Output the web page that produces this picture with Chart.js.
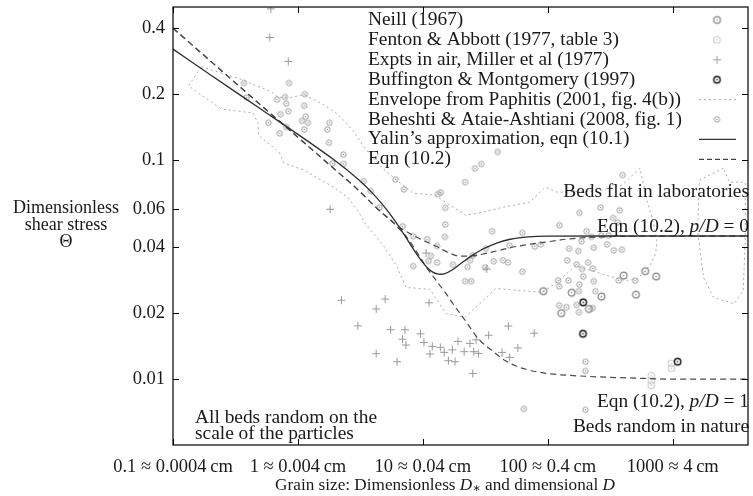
<!DOCTYPE html>
<html><head><meta charset="utf-8">
<script src="https://cdn.jsdelivr.net/npm/chart.js@4"></script>
<style>html,body{margin:0;padding:0;background:#fff}</style>
</head><body>
<canvas id="c" width="753" height="496"></canvas>
<script>
// ---------- data ----------
const xTickValues = [0.1, 1, 10, 100, 1000];
const xTickLabels = ['0.1 \u2248 0.0004\u2009cm', '1 \u2248 0.004\u2009cm', '10 \u2248 0.04\u2009cm', '100 \u2248 0.4\u2009cm', '1000 \u2248 4\u2009cm'];
const yTickValues = [0.01, 0.02, 0.04, 0.06, 0.1, 0.2, 0.4];
const yTickLabels = ['0.01', '0.02', '0.04', '0.06', '0.1', '0.2', '0.4'];

const neill = [[404,0.0297],[601,0.0311],[735,0.0294],[155,0.0248],[268,0.0238],[507,0.0243],[213,0.0209],[128,0.0200],[91.9,0.0252]];
const fenton = [[673,0.01035],[673,0.00982],[673,0.00937],[975,0.01179],[975,0.0112]];
const miller = [[0.595,0.363],[0.607,0.49],[0.837,0.282],[1.81,0.0596],[2.23,0.0229],[3.02,0.0175],[4.99,0.0232],[4.23,0.0209],[11.2,0.0223],[5.52,0.0168],[7.19,0.0168],[9.57,0.0161],[6.87,0.0152],[7.32,0.0143],[10.2,0.0147],[11.9,0.0141],[13.8,0.01396],[14.8,0.01324],[17.2,0.0136],[19.1,0.01486],[23.8,0.01455],[26.7,0.0151],[33.6,0.01585],[48.3,0.01746],[77.8,0.0162],[4.23,0.01306],[6.21,0.0120],[11.4,0.01302],[16.0,0.01213],[18.1,0.0120],[21.4,0.01334],[25.5,0.01334],[27.9,0.0131],[25.1,0.0106],[43.0,0.01324],[49.5,0.01256],[57.6,0.01387],[10.6,0.0376],[32.5,0.0318]];
const buffington = [[192,0.0224],[191,0.0161],[1094,0.0120]];
const envelope = [[0.169,0.267],[0.340,0.235],[0.610,0.205],[0.693,0.194],[0.833,0.192],[1.116,0.199],[1.61,0.179],[2.08,0.162],[2.74,0.137],[3.48,0.112],[4.66,0.0929],[6.13,0.0810],[8.37,0.0706],[12.5,0.0691],[16.5,0.0622],[22.1,0.0560],[30.2,0.0578],[43.5,0.0609],[71.4,0.0642],[95.7,0.0752],[119,0.0713],[248,0.0721],[392,0.0768],[545,0.0919],[620,0.0656],[692,0.0531],[745,0.0430],[731,0.0375],[655,0.0330],[516,0.0285],[407,0.0282],[248,0.0307],[166,0.0330],[124,0.0282],[90.6,0.0249],[38.3,0.0259],[21.7,0.0191],[15.3,0.0199],[11.4,0.0257],[7.36,0.0262],[6.13,0.0330],[4.83,0.0408],[3.48,0.0509],[3.0,0.0590],[2.50,0.0677],[1.93,0.0752],[1.116,0.0900],[0.774,0.0969],[0.706,0.1088],[0.481,0.130],[0.481,0.146],[0.438,0.164],[0.244,0.171],[0.133,0.218],[0.169,0.267]];
const envelopeRight = [[2541,0.0919],[1637,0.0810],[1578,0.0478],[1762,0.0291],[2114,0.0236],[3105,0.0221],[3664,0.0254],[3802,0.0430],[3802,0.0793],[2838,0.0793],[2541,0.0919]];
const beheshti = [[0.370,0.225],[0.388,0.193],[0.848,0.225],[0.681,0.189],[0.788,0.194],[0.807,0.181],[1.137,0.200],[1.122,0.177],[0.837,0.167],[0.723,0.162],[0.581,0.148],[1.151,0.158],[1.076,0.151],[1.201,0.148],[0.807,0.1415],[0.715,0.1324],[1.122,0.138],[1.79,0.148],[1.72,0.138],[1.77,0.120],[2.31,0.106],[2.31,0.0959],[1.89,0.0966],[3.37,0.0801],
[39.7,0.109],[26.1,0.0916],[29.3,0.0959],[21.8,0.0793],[6.05,0.0816],[7.06,0.0734],[3.83,0.0721],[4.49,0.0607],[13.2,0.0699],[13.9,0.0711],[15.1,0.0605],[15.1,0.0508],[15.0,0.0446],[6.88,0.0499],[8.37,0.0449],[10.8,0.0435],[13.0,0.0405],[11.6,0.0365],[11.1,0.0346],[13.0,0.0341],[8.37,0.0328],[17.4,0.0333],[22.8,0.0325],[23.9,0.0349],[25.1,0.0367],[31.9,0.0394],[35.8,0.0473],[49.5,0.0407],[62.5,0.0465],[78.7,0.0403],[87.9,0.0412],[31.5,0.0323],[36.9,0.0345],[43.8,0.0349],[48.0,0.0341],[62.5,0.0309],[21.8,0.0280],[24.4,0.0280],[64.3,0.00731],
[397,0.0854],[264,0.0607],[179,0.0574],[333,0.0544],[376,0.0590],[124,0.0504],[204,0.0473],[362,0.0519],[186,0.0426],[223,0.0446],[268,0.0452],[307,0.0453],[148,0.0394],[175,0.0384],[233,0.0398],[298,0.0412],[337,0.0387],[392,0.0390],[143,0.0348],[170,0.0334],[210,0.0340],[188,0.0318],[229,0.0320],[192,0.0294],[121,0.0282],[146,0.0282],[179,0.0270],[233,0.0280],[369,0.0282],[500,0.0282],[123,0.0265],[177,0.0252],[240,0.0252],[123,0.0217],[141,0.0213],[170,0.0218],[177,0.0202],[229,0.0211],[200,0.0120],[200,0.0109],[200,0.00724]];
const yalin = [[0.1,0.321],[0.2,0.2447],[0.5,0.1715],[1,0.131],[2,0.099],[3,0.0821],[4,0.0701],[5,0.0605],[6,0.0526],[7,0.0461],[8,0.0409],[9,0.0369],[10,0.034],[11,0.032],[12,0.0308],[13,0.0302],[14,0.0301],[15,0.0303],[17,0.0314],[20,0.0336],[25,0.0368],[30,0.03915],[40,0.04203],[50,0.0435],[70,0.04461],[100,0.04495],[300,0.045],[1000,0.045],[4000,0.045]];
const eqnFlat = [[0.1,0.40],[0.2,0.283],[0.5,0.179],[1,0.127],[2,0.090],[3,0.0735],[4,0.0625],[5,0.0557],[6,0.051],[7,0.048],[8.4,0.0453],[10,0.043],[12.8,0.0404],[16,0.0378],[20,0.0364],[25,0.0365],[32,0.0375],[40,0.0386],[50,0.0398],[70,0.0412],[90,0.042],[150,0.0437],[250,0.0445],[500,0.0449],[4000,0.045]];
const eqnRandom = [[0.1,0.40],[0.2,0.283],[0.5,0.179],[1,0.127],[2,0.090],[3,0.0735],[4,0.0625],[5,0.0557],[5.5,0.0535],[6.2,0.0497],[7.4,0.0446],[9,0.0378],[10.6,0.0326],[13,0.0278],[15.3,0.0246],[18,0.0215],[21,0.0191],[28,0.0152],[34,0.0138],[45,0.0122],[55,0.0115],[70,0.011],[100,0.0106],[200,0.0103],[500,0.0101],[1000,0.0100],[4000,0.0100]];

const legendLabels = ['Neill (1967)','Fenton & Abbott (1977, table 3)','Expts in air, Miller et al (1977)','Buffington & Montgomery (1997)','Envelope from Paphitis (2001, fig. 4(b))','Beheshti & Ataie-Ashtiani (2008, fig. 1)','Yalin\u2019s approximation, eqn (10.1)','Eqn (10.2)'];

// ---------- styling helpers ----------
const FONT = '"Liberation Serif", "DejaVu Serif", serif';
const FS = 19.4;      // legend and annotations
const FT = 18.5;      // tick labels
const TXT = '#1a1a1a';
function ring(r, color, lw, dot) {
  const s = Math.ceil(2 * r + lw + 2) | 1;
  const c = document.createElement('canvas');
  c.width = c.height = s;
  const g = c.getContext('2d');
  g.strokeStyle = color; g.fillStyle = color; g.lineWidth = lw;
  g.beginPath(); g.arc(s / 2, s / 2, r, 0, Math.PI * 2); g.stroke();
  g.beginPath(); g.arc(s / 2, s / 2, dot, 0, Math.PI * 2); g.fill();
  return c;
}
const imgNeill = ring(3.4, '#808080', 1.2, 0.8);
const imgFenton = ring(3.3, '#cccccc', 1.1, 0.8);
const imgBuff = ring(3.2, '#111111', 1.4, 0.8);
const imgBeh = ring(2.7, '#999999', 1.0, 0.8);
const pts = a => a.map(p => ({x: p[0], y: p[1]}));

function fontFor(p) { return (p.it ? 'italic ' : '') + (p.size || FS) + 'px ' + FONT; }
function drawRich(ctx, parts, x, y, align) {
  let w = 0;
  for (const p of parts) { ctx.font = fontFor(p); w += ctx.measureText(p.t).width; }
  let cx = align === 'right' ? x - w : align === 'center' ? x - w / 2 : x;
  ctx.textAlign = 'left';
  for (const p of parts) { ctx.font = fontFor(p); ctx.fillText(p.t, cx, y + (p.dy || 0)); cx += ctx.measureText(p.t).width; }
}

const decor = {
  id: 'decor',
  afterDatasetsDraw(chart) {
    const ctx = chart.ctx;
    ctx.save();
    ctx.fillStyle = TXT; ctx.textBaseline = 'middle';
    // legend
    const lx = 368, ly0 = 20, dy = 19.9, sx = 717;
    legendLabels.forEach((t, i) => { ctx.font = FS + 'px ' + FONT; ctx.textAlign = 'left'; ctx.fillText(t, lx, ly0 + i * dy); });
    const drawImg = (img, y) => ctx.drawImage(img, sx - img.width / 2, y - img.height / 2);
    drawImg(imgNeill, ly0);
    drawImg(imgFenton, ly0 + dy);
    ctx.strokeStyle = '#a0a0a0'; ctx.lineWidth = 1;
    ctx.beginPath(); ctx.moveTo(sx - 4, ly0 + 2 * dy); ctx.lineTo(sx + 4, ly0 + 2 * dy); ctx.moveTo(sx, ly0 + 2 * dy - 4); ctx.lineTo(sx, ly0 + 2 * dy + 4); ctx.stroke();
    drawImg(imgBuff, ly0 + 3 * dy);
    const seg = (y, color, w, dash) => { ctx.strokeStyle = color; ctx.lineWidth = w; ctx.setLineDash(dash); ctx.beginPath(); ctx.moveTo(699, y); ctx.lineTo(736, y); ctx.stroke(); ctx.setLineDash([]); };
    seg(ly0 + 4 * dy, '#aaaaaa', 1, [2, 3]);
    drawImg(imgBeh, ly0 + 5 * dy);
    seg(ly0 + 6 * dy, '#333333', 1.3, []);
    seg(ly0 + 7 * dy, '#444444', 1.2, [5, 3]);
    // annotations
    ctx.fillStyle = TXT;
    drawRich(ctx, [{t: 'Beds flat in laboratories'}], 749, 192, 'right');
    drawRich(ctx, [{t: 'Eqn (10.2), '}, {t: 'p/D', it: true}, {t: ' = 0'}], 749, 227, 'right');
    drawRich(ctx, [{t: 'Eqn (10.2), '}, {t: 'p/D', it: true}, {t: ' = 1'}], 749, 402, 'right');
    drawRich(ctx, [{t: 'Beds random in nature'}], 749, 427, 'right');
    drawRich(ctx, [{t: 'All beds random on the'}], 195, 418, 'left');
    drawRich(ctx, [{t: 'scale of the particles'}], 195, 434, 'left');
    // axis titles
    drawRich(ctx, [{t: 'Dimensionless', size: 18}], 66, 208, 'center');
    drawRich(ctx, [{t: 'shear stress', size: 18}], 66, 225.5, 'center');
    drawRich(ctx, [{t: '\u0398', size: 18}], 66, 242, 'center');
    drawRich(ctx, [{t: 'Grain size: Dimensionless ', size: 17.2}, {t: 'D', it: true, size: 17.2}, {t: '\u2217', size: 12.5, dy: 4}, {t: ' and dimensional ', size: 17.2}, {t: 'D', it: true, size: 17.2}], 445, 485, 'center');
    ctx.restore();
  },
  afterDraw(chart) {
    const ctx = chart.ctx, a = chart.chartArea;
    const xs = chart.scales.x, ys = chart.scales.y;
    ctx.save();
    ctx.strokeStyle = '#000'; ctx.lineWidth = 1.2;
    ctx.strokeRect(a.left, a.top, a.right - a.left, a.bottom - a.top);
    ctx.lineWidth = 1; ctx.beginPath();
    const L = 6;
    xTickValues.forEach(v => { const px = Math.round(xs.getPixelForValue(v)) + 0.5; ctx.moveTo(px, a.bottom); ctx.lineTo(px, a.bottom - L); ctx.moveTo(px, a.top); ctx.lineTo(px, a.top + L); });
    yTickValues.forEach(v => { const py = Math.round(ys.getPixelForValue(v)) + 0.5; ctx.moveTo(a.left, py); ctx.lineTo(a.left + L, py); ctx.moveTo(a.right, py); ctx.lineTo(a.right - L, py); });
    ctx.stroke();
    ctx.restore();
  }
};

const lineDs = (data, color, width, dash) => ({data: pts(data), showLine: true, borderColor: color, borderWidth: width, borderDash: dash, pointRadius: 0, pointHoverRadius: 0, fill: false, cubicInterpolationMode: 'monotone', spanGaps: false});
const envDs = (data) => ({data: pts(data), showLine: true, borderColor: '#ababab', borderWidth: 1, borderDash: [2, 3], pointRadius: 0, fill: false, tension: 0});

new Chart(document.getElementById('c'), {
  type: 'scatter',
  data: {
    datasets: [
      lineDs(yalin, '#2e2e2e', 1.3, []),
      lineDs(eqnFlat, '#4a4a4a', 1.2, [6, 4]),
      lineDs(eqnRandom, '#4a4a4a', 1.2, [6, 4]),
      {data: pts(buffington), pointStyle: imgBuff, pointRadius: 4},
      {data: pts(neill), pointStyle: imgNeill, pointRadius: 4},
      {data: pts(fenton), pointStyle: imgFenton, pointRadius: 4},
      {data: pts(beheshti), pointStyle: imgBeh, pointRadius: 3},
      {data: pts(miller), pointStyle: 'cross', pointRadius: 4, borderColor: '#9a9a9a', borderWidth: 1, backgroundColor: '#9a9a9a'},
      envDs(envelope),
      envDs(envelopeRight)
    ]
  },
  options: {
    responsive: false, animation: false, devicePixelRatio: 1,
    layout: {padding: {left: 0, right: 1, top: 7, bottom: 0}},
    plugins: {legend: {display: false}, tooltip: {enabled: false}},
    events: [],
    scales: {
      x: {
        type: 'logarithmic', min: 0.1, max: 4000,
        afterBuildTicks: s => { s.ticks = xTickValues.map(v => ({value: v})); },
        afterFit: s => { s.height = 51; s.paddingLeft = 0; s.paddingRight = 0; },
        grid: {display: false, drawTicks: false}, border: {display: false},
        ticks: {autoSkip: false, maxRotation: 0, padding: 11, color: TXT, font: {family: FONT, size: FT}, callback: (v, i) => xTickLabels[i]}
      },
      y: {
        type: 'logarithmic', min: 0.005, max: 0.5,
        afterBuildTicks: s => { s.ticks = yTickValues.map(v => ({value: v})); },
        afterFit: s => { s.width = 173; s.paddingTop = 0; s.paddingBottom = 0; },
        grid: {display: false, drawTicks: false}, border: {display: false},
        ticks: {autoSkip: false, padding: 8, color: TXT, font: {family: FONT, size: FT}, callback: (v, i) => yTickLabels[i]}
      }
    }
  },
  plugins: [decor]
});
</script>
</body></html>
